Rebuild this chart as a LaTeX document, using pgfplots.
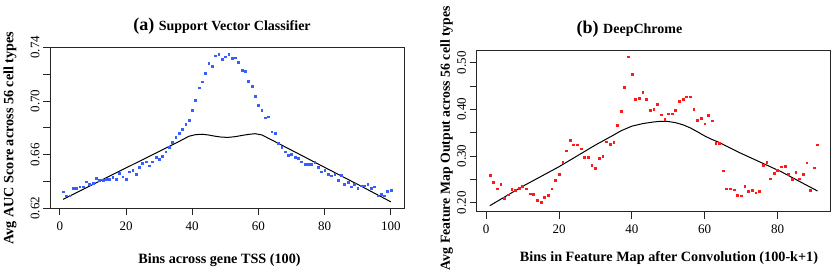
\documentclass[border=0pt]{standalone}
\usepackage{fontspec}
\setmainfont{Liberation Serif}
\usepackage{pgfplots}
\usepackage{pgfplotstable}
\pgfplotsset{compat=1.18}
\definecolor{ptblue}{RGB}{55,95,255}
\definecolor{ptred}{RGB}{255,25,25}

\pgfplotstableread{
x y
1 0.6324
2 0.6294
3 0.6294
4 0.6349
5 0.6349
6 0.6361
7 0.6361
8 0.6399
9 0.6380
10 0.6386
11 0.6424
12 0.6411
13 0.6411
14 0.6419
15 0.6419
16 0.6429
17 0.6419
18 0.6461
19 0.6436
20 0.6419
21 0.6473
22 0.6486
23 0.6453
24 0.6506
25 0.6535
26 0.6548
27 0.6518
28 0.6548
29 0.6578
30 0.6565
31 0.6590
32 0.6622
33 0.6655
34 0.6692
35 0.6729
36 0.6759
37 0.6789
38 0.6826
39 0.6858
40 0.6933
41 0.7007
42 0.7099
43 0.7144
44 0.7206
45 0.7281
46 0.7261
47 0.7338
48 0.7348
49 0.7311
50 0.7330
51 0.7350
52 0.7318
53 0.7323
54 0.7286
55 0.7231
56 0.7219
57 0.7149
58 0.7112
59 0.7037
60 0.6970
61 0.6933
62 0.6876
63 0.6883
64 0.6771
65 0.6757
66 0.6684
67 0.6655
68 0.6622
69 0.6593
70 0.6605
71 0.6578
72 0.6575
73 0.6548
74 0.6528
75 0.6528
76 0.6528
77 0.6543
78 0.6506
79 0.6473
80 0.6486
81 0.6456
82 0.6443
83 0.6456
84 0.6411
85 0.6446
86 0.6379
87 0.6394
88 0.6361
89 0.6379
90 0.6347
91 0.6369
92 0.6369
93 0.6379
94 0.6349
95 0.6361
96 0.6294
97 0.6307
98 0.6294
99 0.6329
100 0.6334
}\svcpts

\pgfplotstableread{
x y
1 0.6267
10 0.6378
20 0.6501
30 0.6624
36 0.6698
39 0.6737
41 0.6749
43 0.6752
45 0.6746
47 0.6737
49 0.6730
51 0.6729
53 0.6734
55 0.6743
57 0.6751
59 0.6756
61 0.6747
63 0.6722
70 0.6633
80 0.6505
90 0.6378
100 0.6248
}\svcline

\pgfplotstableread{
x y
1 0.2593
2 0.2443
3 0.2300
4 0.2393
5 0.2093
6 0.2171
7 0.2286
8 0.2264
9 0.2307
10 0.2357
11 0.2300
12 0.2193
13 0.2186
14 0.2057
15 0.2007
16 0.2114
17 0.2157
18 0.2300
19 0.2479
20 0.2614
21 0.2871
22 0.3114
23 0.3343
24 0.3243
25 0.3243
26 0.3157
27 0.2971
28 0.2971
29 0.2807
30 0.2736
31 0.2957
32 0.3000
33 0.3307
34 0.3250
35 0.3293
36 0.3664
37 0.3964
38 0.4479
39 0.5129
40 0.4750
41 0.4221
42 0.4236
43 0.4364
44 0.4221
45 0.3986
46 0.4000
47 0.4107
48 0.3886
49 0.3793
50 0.3907
51 0.3907
52 0.3986
53 0.4179
54 0.4221
55 0.4271
56 0.4271
57 0.4000
58 0.3771
59 0.3807
60 0.3693
61 0.3879
62 0.3757
63 0.3279
64 0.3279
65 0.2686
66 0.2300
67 0.2300
68 0.2279
69 0.2157
70 0.2150
71 0.2357
72 0.2250
73 0.2271
74 0.2214
75 0.2243
76 0.2807
77 0.2864
78 0.2514
79 0.2629
80 0.2700
81 0.2771
82 0.2786
83 0.2607
84 0.2507
85 0.2657
86 0.2514
87 0.2614
88 0.2857
89 0.2271
90 0.2750
91 0.3243
}\dcpts

\pgfplotstableread{
x y
1 0.1936
10 0.2350
20 0.2771
30 0.3236
35 0.3450
37 0.3540
40 0.3640
43 0.3695
46 0.3730
48 0.3745
50 0.3740
52 0.3715
54 0.3670
56 0.3605
58 0.3520
60 0.3430
62 0.3355
64 0.3290
70 0.3057
77 0.2807
81 0.2664
91 0.2250
}\dcline

\pgfplotsset{
  rstyle/.style={
    scale only axis,
    width=354pt, height=161pt,
    anchor=south west,
    axis line style={line width=0.8pt, black!85},
    every tick/.style={line width=0.8pt, black!85},
    tick align=outside,
    tick pos=left,
    major tick length=7pt,
    font=\fontsize{13}{15}\selectfont,
    /pgf/number format/assume math mode=true,
    xticklabel style={yshift=-3pt},
    yticklabel style={rotate=90, anchor=south, xshift=0pt},
    clip=false,
  },
}

\begin{document}
\begin{tikzpicture}[x=1pt,y=1pt]
\useasboundingbox (0pt,0pt) rectangle (831pt,277pt);

\begin{axis}[rstyle,
  at={(50pt,68.7pt)},
  xmin=-2.96, xmax=103.96,
  ymin=0.62, ymax=0.74,
  xtick={0,20,40,60,80,100},
  ytick={0.62,0.64,0.66,0.68,0.70,0.72,0.74},
  yticklabels={0.62,,0.66,,0.70,,0.74},
]
\addplot[only marks, mark=square*, mark size=0.9pt, ptblue, mark options={draw=none}] table[x=x,y=y]{\svcpts};
\addplot[black, line width=1pt] table[x=x,y=y]{\svcline};
\end{axis}

\begin{axis}[rstyle,
  at={(476.7pt,65.3pt)},
  xmin=-2.6, xmax=94.6,
  ymin=0.1807, ymax=0.5257,
  xtick={0,20,40,60,80},
  ytick={0.20,0.25,0.30,0.35,0.40,0.45,0.50},
  yticklabels={0.20,,0.30,,0.40,,0.50},
]
\addplot[only marks, mark=square*, mark size=0.9pt, ptred, mark options={draw=none}] table[x=x,y=y]{\dcpts};
\addplot[black, line width=1pt] table[x=x,y=y]{\dcline};
\end{axis}

% titles
\node[anchor=base] at (222pt,246.3pt) {\bfseries\fontsize{18}{20}\selectfont (a)\ \fontsize{14}{16}\selectfont Support Vector Classifier};
\node[anchor=base] at (629.5pt,243.7pt) {\bfseries\fontsize{18}{20}\selectfont (b)\ \fontsize{14}{16}\selectfont DeepChrome};
% x labels
\node[anchor=base] at (219.5pt,13.7pt) {\bfseries\fontsize{14.2}{16}\selectfont Bins across gene TSS (100)};
\node[anchor=base] at (669pt,15.3pt) {\bfseries\fontsize{14.2}{16}\selectfont Bins in Feature Map after Convolution (100-k+1)};
% y labels
\node[rotate=90, anchor=center] at (10pt,139pt) {\bfseries\fontsize{14.2}{16}\selectfont Avg AUC Score across 56 cell types};
\node[rotate=90, anchor=center, inner sep=1pt] at (446.7pt,139pt) {\bfseries\fontsize{13.8}{16}\selectfont Avg Feature Map Output across 56 cell types};
\end{tikzpicture}
\end{document}
